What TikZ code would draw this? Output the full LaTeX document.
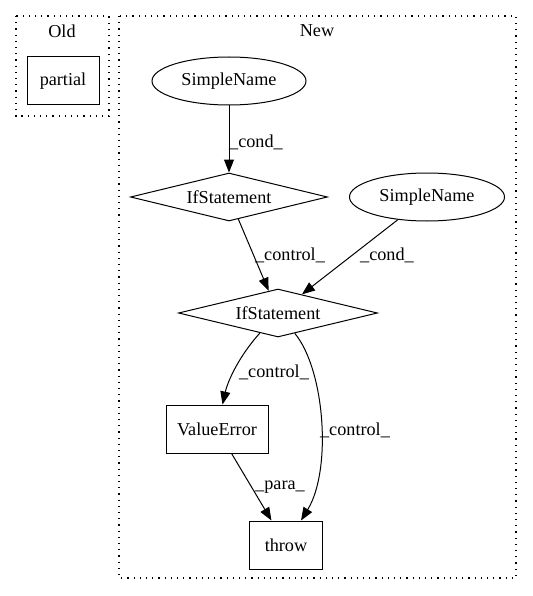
\documentclass[tikz,border=0pt]{standalone}
\usepackage{fontspec}
\setmainfont{Liberation Serif}
\usetikzlibrary{shapes.geometric,arrows.meta}
\begin{document}
\begin{tikzpicture}[x=1pt,y=-1pt,
  every node/.style={font=\fontsize{18.2}{20}\selectfont},
  cluster/.style={draw,line width=1.2pt,dash pattern=on 1.2pt off 5pt},
  boxnode/.style={draw,rectangle,inner sep=0pt,minimum height=48pt,line width=1pt},
  ellnode/.style={draw,ellipse,inner sep=0pt,minimum width=154pt,minimum height=48pt,line width=1pt},
  dianode/.style={draw,diamond,aspect=4.1,inner sep=0pt,minimum width=197pt,minimum height=48pt,line width=1pt},
  edge/.style={-{Triangle[length=13pt,width=10pt]},line width=1pt},
  lbl/.style={inner sep=0pt}
]
\useasboundingbox (0,0) rectangle (532,596);
% clusters
\draw[cluster] (16,16) rectangle (109,116);
\draw[cluster] (119,16) rectangle (516,578);
\node[lbl] (oldlbl) at (62,31) {Old};
\node[lbl] (newlbl) at (317,31) {New};
% nodes
\node[boxnode,minimum width=72pt] (partial) at (63,81) {partial};
\node[ellnode] (sn1) at (229,81) {SimpleName};
\node[dianode] (if1) at (229,197) {IfStatement};
\node[ellnode,minimum width=155pt] (sn2) at (427,197) {SimpleName};
\node[dianode,minimum width=199pt] (if2) at (278,313) {IfStatement};
\node[boxnode,minimum width=102pt] (ve) at (217,429) {ValueError};
\node[boxnode,minimum width=73pt] (thr) at (286,545) {throw};
% edges
\draw[edge] (sn1) -- (if1);
\draw[edge] (if1) -- (if2);
\draw[edge] (sn2) -- (if2);
\draw[edge] (if2) .. controls (240,355) and (228,380) .. (ve);
\draw[edge] (if2) .. controls (325,370) and (332,470) .. (thr);
\draw[edge] (ve) -- (thr);
% edge labels
\node[lbl] (l1) at (256,142) {\_cond\_};
\node[lbl] (l2) at (290,255) {\_control\_};
\node[lbl] (l3) at (387,255) {\_cond\_};
\node[lbl] (l4) at (274,372) {\_control\_};
\node[lbl] (l5) at (355,430) {\_control\_};
\node[lbl] (l6) at (280,487) {\_para\_};
\end{tikzpicture}
\end{document}
